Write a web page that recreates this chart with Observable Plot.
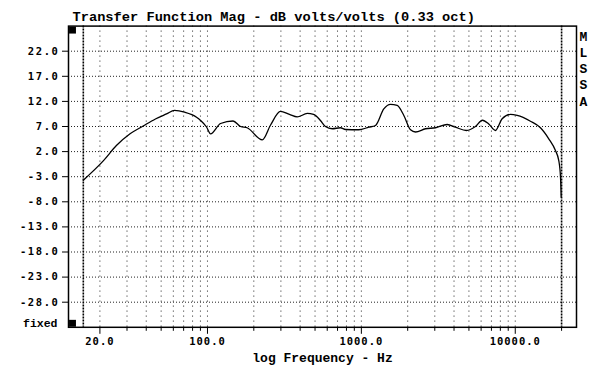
<!DOCTYPE html>
<html>
<head>
<meta charset="utf-8">
<script src="https://cdn.jsdelivr.net/npm/d3@7"></script>
<script src="https://cdn.jsdelivr.net/npm/@observablehq/plot@0.6"></script>
<style>
  html, body { margin: 0; padding: 0; background: #fff; }
  g[aria-label="y-axis tick label"] text { letter-spacing: 1.6px; }
  g[aria-label="x-axis tick label"] text { letter-spacing: 1px; }
</style>
</head>
<body>
<div id="chart"></div>
<script>
const title = "Transfer Function Mag - dB volts/volts (0.33 oct)";
const xLabel = "log Frequency - Hz";
const sideLabel = "M\nL\nS\nS\nA";
const fixedLabel = "fixed";

const xDomain = [12.5, 25000];
const yDomain = [-33, 27];
const yTicks = [22, 17, 12, 7, 2, -3, -8, -13, -18, -23, -28];
const xLabelTicks = [20, 100, 1000, 10000];
const xMinorTicks = [30, 40, 50, 60, 70, 80, 90, 200, 300, 400, 500, 600, 700, 800, 900,
                     2000, 3000, 4000, 5000, 6000, 7000, 8000, 9000, 20000];
const xGrid = [20, 30, 40, 50, 60, 70, 80, 90, 100, 200, 300, 400, 500, 600, 700, 800, 900,
               1000, 2000, 3000, 4000, 5000, 6000, 7000, 8000, 9000, 10000];
const xBounds = [15.6, 20000];

const freq = [15.6, 21.1, 25.6, 31.4, 38.2, 45.9, 54.2, 61.1, 71.0, 84.9,
              90.2, 98.6, 104.7, 121.6, 146.6, 164, 181, 227, 257, 298,
              341, 383, 445, 489, 542, 584, 646, 731, 789, 962,
              1117, 1235, 1399, 1546, 1709, 1888, 2086, 2249, 2612, 3033,
              3611, 4087, 4819, 5510, 6120, 6727, 7434, 8221, 9306, 10290,
              12550, 14580, 16510, 18250, 19180, 19680, 19880];
const mag = [-3.7, 0.2, 3.2, 5.55, 7.1, 8.5, 9.5, 10.2, 9.85, 8.85,
             8.2, 6.9, 5.55, 7.6, 8.1, 7.0, 6.75, 4.35, 7.3, 10.0,
             9.4, 8.9, 9.6, 9.4, 8.2, 7.0, 6.55, 6.75, 6.4, 6.35,
             6.86, 7.2, 10.5, 11.4, 11.2, 9.2, 6.35, 5.9, 6.55, 6.75,
             7.4, 6.86, 6.2, 7.0, 8.25, 7.5, 6.2, 8.55, 9.4, 9.2,
             8.05, 6.75, 4.55, 2.2, 0.2, -3.1, -7.1];

const data = freq.map((f, i) => ({f, v: mag[i]}));
const corners = [{x: xDomain[0], y: yDomain[1], dy: 4}, {x: xDomain[0], y: yDomain[0], dy: -4}];

const mono = "'DejaVu Sans Mono', 'Liberation Mono', monospace";
const serifMono = "'Liberation Mono', 'DejaVu Sans Mono', monospace";

const chart = Plot.plot({
  width: 600,
  height: 379,
  marginLeft: 68,
  marginRight: 24,
  marginTop: 25.6,
  marginBottom: 52.2,
  style: {background: "#fff", color: "#000", fontFamily: mono, fontWeight: "bold"},
  x: {type: "log", domain: xDomain},
  y: {domain: yDomain},
  marks: [
    Plot.ruleY(yTicks, {stroke: "#222", strokeWidth: 1, strokeDasharray: "1,2"}),
    Plot.ruleX(xGrid, {stroke: "#222", strokeWidth: 1, strokeDasharray: "1,4"}),
    Plot.ruleX(xBounds, {stroke: "#000", strokeWidth: 1.6, strokeDasharray: "2,1"}),
    Plot.line(data, {x: "f", y: "v", stroke: "#000", strokeWidth: 1.3, curve: "monotone-x"}),
    Plot.frame({stroke: "#000", strokeWidth: 1.5}),
    Plot.dot(corners.slice(0, 1), {x: "x", y: "y", symbol: "square", r: 3.9, fill: "#000", dx: 4, dy: 4}),
    Plot.dot(corners.slice(1), {x: "x", y: "y", symbol: "square", r: 3.9, fill: "#000", dx: 4, dy: -4}),
    Plot.axisY({ticks: yTicks, tickFormat: d => d.toFixed(1), tickSize: 6, tickPadding: 3,
                fontSize: 10.5, fontFamily: mono, fontWeight: "bold", label: null}),
    Plot.axisX({ticks: xMinorTicks, tickFormat: () => "", tickSize: 4, label: null}),
    Plot.axisX({ticks: xLabelTicks, tickFormat: d => d.toFixed(1), tickSize: 7, tickPadding: 3,
                fontSize: 10.5, fontFamily: mono, fontWeight: "bold", label: null}),
    Plot.text([title], {frameAnchor: "top-left", dx: 4, dy: -9, textAnchor: "start", lineAnchor: "middle",
                        fontSize: 13.7, fontFamily: serifMono, fontWeight: "bold"}),
    Plot.text([xLabel], {frameAnchor: "bottom", dy: 31, lineAnchor: "middle",
                         fontSize: 13, fontFamily: serifMono, fontWeight: "bold"}),
    Plot.text([fixedLabel], {frameAnchor: "bottom-left", dx: -11, dy: -4, textAnchor: "end", lineAnchor: "middle",
                             fontSize: 11.5, fontFamily: serifMono, fontWeight: "bold"}),
    Plot.text([sideLabel], {frameAnchor: "top-right", dx: 3, dy: 3, textAnchor: "start", lineAnchor: "top",
                            lineHeight: 1.25, fontSize: 13, fontFamily: serifMono, fontWeight: "bold"})
  ]
});
document.getElementById("chart").appendChild(chart);
</script>
</body>
</html>
